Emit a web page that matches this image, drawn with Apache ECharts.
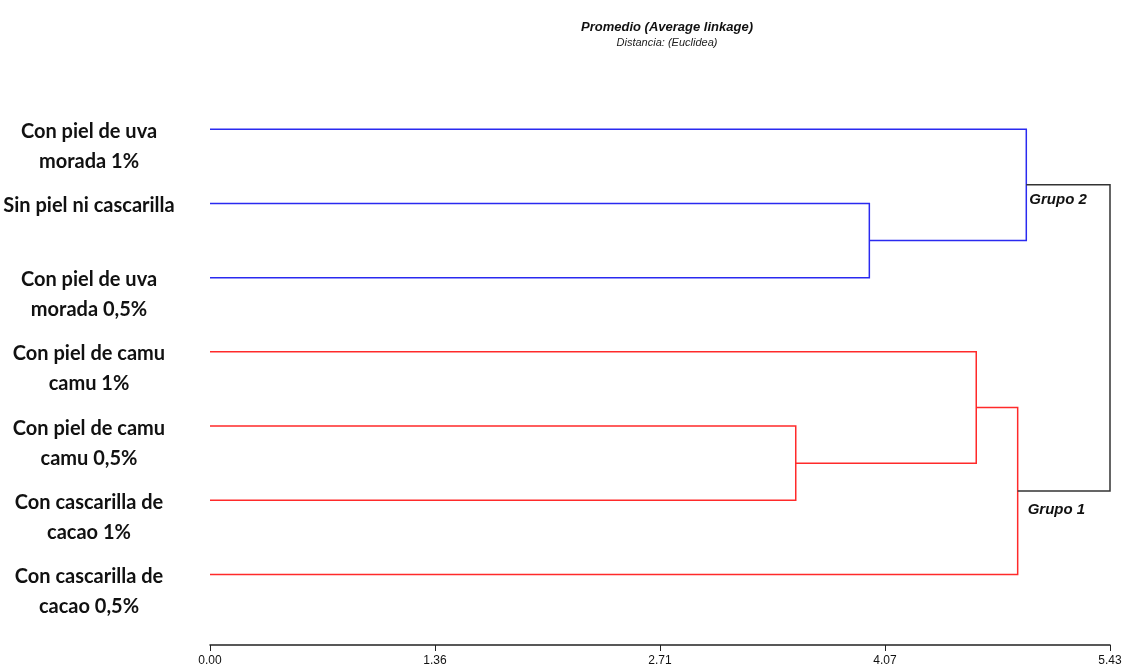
<!DOCTYPE html>
<html>
<head>
<meta charset="utf-8">
<script src="https://cdn.jsdelivr.net/npm/echarts@6/dist/echarts.min.js"></script>
<style>
  html, body { margin: 0; padding: 0; background: #fff; }
  #chart { width: 1125px; height: 671px; }
</style>
</head>
<body>
<div id="chart"></div>
<script>
// Leaves of the dendrogram, top to bottom
const leafLabels = [
  'Con piel de uva\nmorada 1%',
  'Sin piel ni cascarilla',
  'Con piel de uva\nmorada 0,5%',
  'Con piel de camu\ncamu 1%',
  'Con piel de camu\ncamu 0,5%',
  'Con cascarilla de\ncacao 1%',
  'Con cascarilla de\ncacao 0,5%'
];

// Merge steps: children (leaf index or 7+ step index), linkage distance, branch colour
const mergeLeft   = [1, 0, 4, 3, 6, 8];
const mergeRight  = [2, 7, 5, 9, 10, 11];
const mergeHeight = [3.978, 4.925, 3.534, 4.623, 4.873, 5.43];
const mergeColor  = ['#2a2af0', '#2a2af0', '#ff2a2a', '#ff2a2a', '#ff2a2a', '#333333'];

// Group captions attached to the two top clusters
const groupNames = ['Grupo 2', 'Grupo 1'];
const groupNodes = [8, 11];

// Distance axis ticks
const tickValues = [0, 1.3575, 2.715, 4.0725, 5.43];
const tickLabels = ['0.00', '1.36', '2.71', '4.07', '5.43'];

// Position (distance, row) of every node
const nodeX = leafLabels.map(() => 0);
const nodeY = leafLabels.map((_, i) => i);
mergeHeight.forEach((h, k) => {
  const a = mergeLeft[k], b = mergeRight[k];
  nodeX.push(h);
  nodeY.push((nodeY[a] + nodeY[b]) / 2);
});

const linkData = mergeHeight.map((h, k) => {
  const a = mergeLeft[k], b = mergeRight[k];
  return [nodeX[a], nodeY[a], h, nodeY[b], nodeX[b], k];
});
const leafData = leafLabels.map((_, i) => [0, i]);
const groupData = groupNodes.map((n, g) => [nodeX[n], nodeY[n], g]);

const narrow = '"Liberation Sans Narrow", "Arial Narrow", "Liberation Sans", sans-serif';

const chart = echarts.init(document.getElementById('chart'));
chart.setOption({
  backgroundColor: '#fff',
  animation: false,
  title: {
    text: 'Promedio (Average linkage)',
    subtext: 'Distancia: (Euclidea)',
    left: 662,
    top: 16,
    textAlign: 'center',
    itemGap: 3,
    textStyle: {
      fontFamily: narrow,
      fontSize: 13, fontWeight: 'bold', fontStyle: 'italic', color: '#111'
    },
    subtextStyle: {
      fontFamily: narrow,
      fontSize: 11, fontStyle: 'italic', color: '#222'
    }
  },
  grid: { left: 210, right: 15, top: 55, height: 590 },
  xAxis: {
    type: 'value',
    position: 'bottom',
    min: 0,
    max: 5.43,
    interval: 1.3575,
    splitLine: { show: false },
    axisLine: { show: true, onZero: false, lineStyle: { color: '#222', width: 1.5 } },
    axisTick: { show: true, length: 6, lineStyle: { color: '#222' } },
    axisLabel: {
      margin: 10,
      fontFamily: narrow,
      fontSize: 12, color: '#111',
      showMaxLabel: true,
      formatter: v => {
        const i = tickValues.findIndex(t => Math.abs(t - v) < 1e-6);
        return i >= 0 ? tickLabels[i] : '';
      }
    }
  },
  yAxis: {
    type: 'value',
    min: -1,
    max: 6.95,
    inverse: true,
    show: false
  },
  series: [
    {
      type: 'custom',
      name: 'links',
      clip: false,
      data: linkData,
      renderItem: (params, api) => {
        const p1 = api.coord([api.value(0), api.value(1)]);
        const p2 = api.coord([api.value(2), api.value(1)]);
        const p3 = api.coord([api.value(2), api.value(3)]);
        const p4 = api.coord([api.value(4), api.value(3)]);
        return {
          type: 'polyline',
          shape: { points: [p1, p2, p3, p4] },
          style: { stroke: mergeColor[api.value(5)], lineWidth: 1.5, fill: null }
        };
      }
    },
    {
      type: 'custom',
      name: 'leaves',
      clip: false,
      data: leafData,
      renderItem: (params, api) => {
        const p = api.coord([api.value(0), api.value(1)]);
        return {
          type: 'text',
          x: p[0] - 121,
          y: p[1] - 13,
          style: {
            text: leafLabels[params.dataIndex],
            align: 'center',
            verticalAlign: 'top',
            lineHeight: 30,
            font: 'bold 20px Lato, "Open Sans", sans-serif',
            fill: '#111'
          }
        };
      }
    },
    {
      type: 'custom',
      name: 'groups',
      clip: false,
      z: 5,
      data: groupData,
      renderItem: (params, api) => {
        const p = api.coord([api.value(0), api.value(1)]);
        const g = api.value(2);
        return {
          type: 'text',
          x: p[0] + (g === 0 ? 2 : 9),
          y: p[1] + (g === 0 ? 15 : 19),
          style: {
            text: groupNames[g],
            align: 'left',
            verticalAlign: 'middle',
            font: 'italic bold 15px ' + narrow,
            fill: '#111',
            backgroundColor: '#fff',
            padding: [2, 1]
          }
        };
      }
    }
  ]
});
</script>
</body>
</html>
